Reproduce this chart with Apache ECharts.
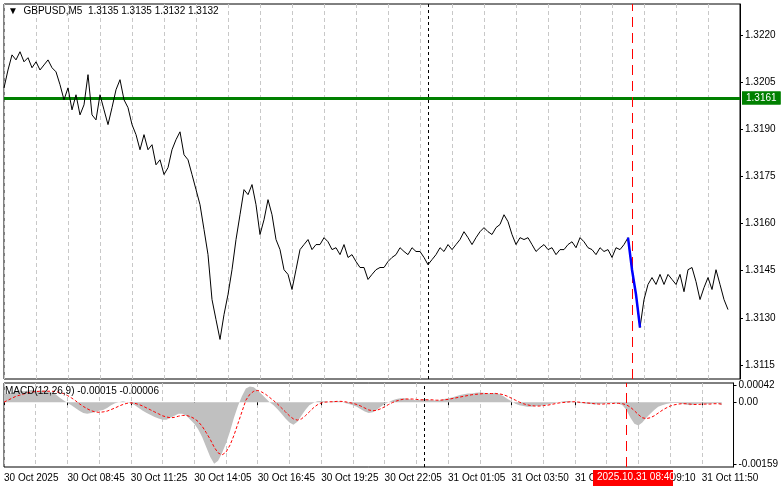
<!DOCTYPE html><html><head><meta charset="utf-8">
<script src="https://cdn.jsdelivr.net/npm/echarts@6/dist/echarts.min.js"></script>
<style>html,body{margin:0;padding:0;background:#fff}#c{width:781px;height:489px}</style></head><body><div id="c"></div>
<script>
const closes=[1.32032,1.32089,1.32137,1.32121,1.32147,1.32115,1.32128,1.32096,1.32115,1.32089,1.32105,1.32121,1.32096,1.32083,1.32042,1.31994,1.32032,1.31962,1.32010,1.31946,1.31978,1.32074,1.31946,1.31930,1.32010,1.31962,1.31915,1.31969,1.32026,1.32058,1.31994,1.31969,1.31915,1.31883,1.31835,1.31883,1.31835,1.31851,1.31787,1.31803,1.31756,1.31778,1.31835,1.31867,1.31892,1.31819,1.31803,1.31756,1.31708,1.31660,1.31581,1.31501,1.31358,1.31294,1.31231,1.31310,1.31374,1.31453,1.31549,1.31628,1.31708,1.31692,1.31724,1.31660,1.31565,1.31612,1.31676,1.31628,1.31549,1.31517,1.31453,1.31438,1.31390,1.31453,1.31517,1.31533,1.31549,1.31517,1.31533,1.31533,1.31555,1.31542,1.31517,1.31523,1.31501,1.31533,1.31492,1.31501,1.31479,1.31460,1.31460,1.31422,1.31438,1.31453,1.31460,1.31460,1.31479,1.31492,1.31501,1.31523,1.31511,1.31501,1.31523,1.31511,1.31511,1.31492,1.31469,1.31485,1.31501,1.31523,1.31511,1.31533,1.31517,1.31533,1.31549,1.31574,1.31555,1.31533,1.31555,1.31574,1.31587,1.31574,1.31565,1.31587,1.31597,1.31628,1.31606,1.31565,1.31533,1.31555,1.31549,1.31555,1.31533,1.31511,1.31523,1.31533,1.31517,1.31523,1.31501,1.31517,1.31517,1.31533,1.31542,1.31523,1.31555,1.31542,1.31523,1.31517,1.31501,1.31523,1.31511,1.31517,1.31492,1.31523,1.31517,1.31533,1.31555,1.31453,1.31374,1.31269,1.31358,1.31406,1.31428,1.31406,1.31438,1.31406,1.31438,1.31422,1.31406,1.31438,1.31383,1.31453,1.31460,1.31415,1.31358,1.31396,1.31428,1.31390,1.31453,1.31406,1.31358,1.31326];
const macdHist=[0.00020,0.00022,0.00025,0.00028,0.00030,0.00028,0.00030,0.00032,0.00030,0.00028,0.00030,0.00028,0.00025,0.00020,
0.00012,0.00005,-0.00002,-0.00008,
-0.00015,-0.00022,-0.00028,-0.00030,-0.00028,-0.00025,
-0.00022,-0.00020,-0.00015,-0.00008,-0.00003,0.00000,
0.00002,0.00000,-0.00003,
-0.00008,-0.00015,-0.00022,-0.00028,-0.00033,-0.00038,-0.00042,-0.00045,-0.00045,-0.00040,
-0.00035,-0.00030,-0.00030,-0.00035,-0.00045,
-0.00055,-0.00070,-0.00090,-0.00115,-0.00140,-0.00158,-0.00150,-0.00130,-0.00105,-0.00075,-0.00040,-0.00010,0.00015,
0.00035,0.00040,0.00038,0.00030,0.00020,0.00010,
0.00000,-0.00008,-0.00018,-0.00030,-0.00042,-0.00052,-0.00058,-0.00050,-0.00035,-0.00020,-0.00008,-0.00002,
0.00002,0.00003,0.00002,0.00000,0.00002,0.00003,0.00001,-0.00002,-0.00005,-0.00008,
-0.00012,-0.00018,-0.00024,-0.00028,-0.00026,-0.00020,-0.00012,-0.00005,0.00000,
0.00005,0.00008,0.00010,0.00010,0.00008,0.00006,0.00005,0.00006,0.00008,0.00006,0.00005,0.00004,0.00005,0.00008,0.00010,0.00012,
0.00015,0.00018,0.00020,0.00022,0.00022,0.00024,0.00025,0.00024,0.00022,0.00023,0.00024,0.00020,0.00015,0.00008,0.00002,-0.00004,
-0.00008,-0.00010,-0.00012,-0.00012,-0.00010,-0.00010,-0.00008,-0.00006,-0.00004,-0.00002,
0.00000,0.00002,0.00003,0.00002,0.00000,-0.00002,-0.00003,-0.00004,-0.00005,-0.00006,-0.00005,-0.00004,-0.00003,-0.00002,-0.00003,-0.00004,
-0.00008,-0.00020,-0.00040,-0.00055,-0.00060,-0.00052,-0.00040,-0.00030,-0.00020,-0.00012,-0.00008,
-0.00005,-0.00003,-0.00002,-0.00002,-0.00004,-0.00006,-0.00008,-0.00006,-0.00004,-0.00003,-0.00005,-0.00004,-0.00003,-0.00002,-0.00008];
const macdSignal=[0.00000,0.00005,0.00010,0.00015,0.00018,0.00021,0.00024,0.00026,0.00027,0.00028,0.00028,0.00028,0.00028,0.00027,
0.00025,0.00022,0.00017,0.00011,
0.00004,-0.00004,-0.00011,-0.00017,-0.00022,-0.00025,
-0.00026,-0.00025,-0.00023,-0.00019,-0.00015,-0.00010,
-0.00006,-0.00003,-0.00002,
-0.00003,-0.00006,-0.00010,-0.00015,-0.00020,-0.00025,-0.00030,-0.00035,-0.00038,-0.00040,
-0.00039,-0.00036,-0.00034,-0.00034,-0.00037,
-0.00042,-0.00050,-0.00062,-0.00078,-0.00095,-0.00115,-0.00130,-0.00135,-0.00128,-0.00110,-0.00085,-0.00055,-0.00025,
0.00005,0.00020,0.00028,0.00030,0.00026,0.00020,
0.00012,0.00004,-0.00005,-0.00015,-0.00025,-0.00035,-0.00043,-0.00046,-0.00043,-0.00035,-0.00025,-0.00015,
-0.00007,-0.00002,0.00000,0.00001,0.00001,0.00002,0.00002,0.00001,-0.00001,-0.00003,
-0.00006,-0.00010,-0.00015,-0.00020,-0.00022,-0.00021,-0.00017,-0.00012,-0.00006,
-0.00001,0.00003,0.00006,0.00008,0.00008,0.00008,0.00007,0.00006,0.00006,0.00006,0.00006,0.00005,0.00005,0.00006,0.00007,0.00009,
0.00011,0.00013,0.00015,0.00017,0.00019,0.00020,0.00021,0.00022,0.00022,0.00022,0.00022,0.00021,0.00019,0.00015,0.00010,0.00005,
0.00000,-0.00004,-0.00007,-0.00009,-0.00010,-0.00010,-0.00009,-0.00008,-0.00006,-0.00004,
-0.00002,-0.00001,0.00000,0.00001,0.00001,0.00000,-0.00001,-0.00002,-0.00003,-0.00004,-0.00005,-0.00005,-0.00004,-0.00004,-0.00003,-0.00003,
-0.00004,-0.00007,-0.00013,-0.00022,-0.00032,-0.00040,-0.00042,-0.00040,-0.00035,-0.00028,-0.00021,
-0.00015,-0.00010,-0.00007,-0.00005,-0.00004,-0.00004,-0.00005,-0.00006,-0.00006,-0.00005,-0.00005,-0.00005,-0.00004,-0.00004,-0.00005];
const tickLabels=['30 Oct 2025','30 Oct 08:45','30 Oct 11:25','30 Oct 14:05','30 Oct 16:45','30 Oct 19:25','30 Oct 22:05','31 Oct 01:05','31 Oct 03:50','31 Oct 06:30','31 Oct 09:10','31 Oct 11:50'];
const priceTicks=[1.3115,1.3130,1.3145,1.3160,1.3175,1.3190,1.3205,1.3220];
const macdTicks=[-0.00159,0,0.00042];
const levels=[{v:1.3190,c:'#008000',w:3,bg:'#008000',fg:'#fff'},{v:1.3161,c:'#008000',w:2,bg:'#008000',fg:'#fff'},{v:1.3144,c:'#ff0000',w:2,bg:'#ff0000',fg:'#fff'},{v:1.3135,c:'#ff4500',w:1,bg:'#ff5a1e',fg:'#fff'},{v:1.3132,c:'#b0b0b0',w:1,bg:'#000',fg:'#fff'},{v:1.3120,c:'#ff0000',w:5,bg:'#ff0000',fg:'#fff'}];
const blueStart=156, blueEnd=159, cursorIdx=157, sepIdx=106;
const N=185;
const cats=Array.from({length:N},(_,i)=>String(i));
const blue=closes.map((v,i)=>(i>=blueStart&&i<=blueEnd)?v:null);
const font='Liberation Sans';
const chart=echarts.init(document.getElementById('c'));
const vline=(idx,color,type)=>({xAxis:idx,lineStyle:{color,type,width:1},label:{show:false}});
const gridLines=priceTicks.map(v=>({yAxis:v,lineStyle:{color:'#c8c8c8',type:[4,3],width:1},label:{show:false}}));
const levelLines=levels.map(l=>({yAxis:l.v,lineStyle:{color:l.c,width:l.w,type:'solid'},
 label:{show:true,position:'end',distance:2,formatter:l.v.toFixed(4),backgroundColor:l.bg,color:l.fg,fontSize:10,padding:[2,4,1,4],fontFamily:font}}));
chart.setOption({
animation:false,backgroundColor:'#fff',
textStyle:{fontFamily:font},
grid:[{left:4,top:4,width:736,height:375,show:true,borderColor:'#000',borderWidth:1},
{left:4,top:383,width:736,height:84,show:true,borderColor:'#000',borderWidth:1}],
xAxis:[{type:'category',gridIndex:0,data:cats,boundaryGap:false,axisLabel:{show:false},axisTick:{show:false},axisLine:{show:false},splitLine:{show:true,interval:7,lineStyle:{color:'#c8c8c8',type:[4,3]}}},
{type:'category',gridIndex:1,data:cats,boundaryGap:false,axisTick:{show:true,interval:15,length:3,lineStyle:{color:'#000'}},axisLine:{show:false},
 splitLine:{show:true,interval:7,lineStyle:{color:'#c8c8c8',type:[4,3]}},
 axisLabel:{interval:15,align:'left',margin:6,fontSize:10,color:'#000',fontFamily:font,formatter:(v,i)=>tickLabels[i/16]||''}}],
yAxis:[{type:'value',gridIndex:0,position:'right',min:1.31105,max:1.32299,axisLine:{show:true,lineStyle:{color:'#000'}},splitLine:{show:false},
 axisTick:{show:true,customValues:priceTicks,length:3},axisLabel:{customValues:priceTicks,fontSize:10,color:'#000',margin:5,formatter:v=>v.toFixed(4)}},
{type:'value',gridIndex:1,position:'right',min:-0.00166,max:0.00049,axisLine:{show:true,lineStyle:{color:'#000'}},splitLine:{show:false},
 axisTick:{show:true,customValues:macdTicks,length:3},axisLabel:{customValues:macdTicks,fontSize:10,color:'#000',margin:5,formatter:v=>v===0?'0.00':v.toFixed(5)}}],
series:[
{type:'line',xAxisIndex:0,yAxisIndex:0,data:closes,showSymbol:false,z:5,lineStyle:{color:'#000',width:1},
 markLine:{silent:true,symbol:'none',data:[...gridLines,...levelLines,vline(sepIdx,'#000',[3,3]),vline(cursorIdx,'#ff0000',[10,6])]}},
{type:'line',xAxisIndex:0,yAxisIndex:0,data:blue,showSymbol:false,z:6,lineStyle:{color:'#0000ff',width:2.5}},
{type:'line',xAxisIndex:1,yAxisIndex:1,data:macdHist,showSymbol:false,lineStyle:{width:0},areaStyle:{color:'#c0c0c0',opacity:1,origin:0},
 markLine:{silent:true,symbol:'none',data:[vline(sepIdx,'#000',[3,3]),vline(cursorIdx,'#ff0000',[10,6])]}},
{type:'line',xAxisIndex:1,yAxisIndex:1,data:macdSignal,showSymbol:false,z:5,lineStyle:{color:'#ff0000',width:1,type:[3,2]}}
],
graphic:[
{type:'text',left:8,top:6,style:{text:'▼  GBPUSD,M5  1.3135 1.3135 1.3132 1.3132',fontSize:10,fill:'#000',fontFamily:font},z:100},
{type:'text',left:5,top:386,style:{text:'MACD(12,26,9) -0.00015 -0.00006',fontSize:10,fill:'#000',fontFamily:font},z:100},
{type:'rect',left:593,top:470,shape:{width:80,height:16},style:{fill:'#ff0000'},z:100},
{type:'text',left:597,top:472,style:{text:'2025.10.31 08:40',fontSize:10,fill:'#fff',fontFamily:font},z:101}
]});
</script></body></html>
